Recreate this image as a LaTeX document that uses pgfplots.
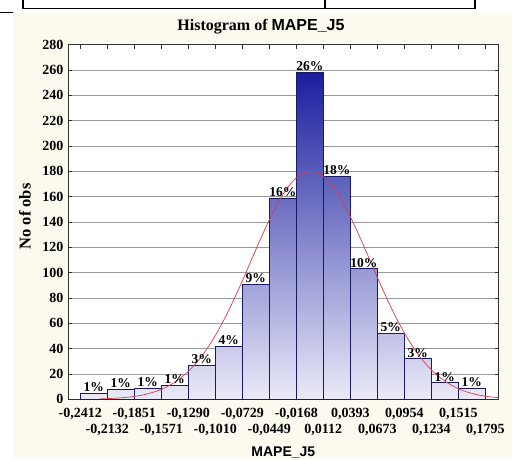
\documentclass[border=0pt]{standalone}
\usepackage{pgfplots}
\pgfplotsset{compat=1.18}
\usepackage{pgfplotstable}
\usepackage{fontspec}
\setmainfont{Liberation Serif}
\newfontfamily\arialf{Liberation Sans}

\definecolor{cream}{RGB}{252,249,239}
\definecolor{bbot}{RGB}{234,234,248}
\definecolor{bmid}{RGB}{122,125,208}
\definecolor{btop}{RGB}{26,30,158}
\definecolor{bnav}{RGB}{25,25,100}
\definecolor{curvered}{RGB}{215,60,80}

% bin left edges, counts, percent labels (last row closes the last bin)
\pgfplotstableread{
e n p
-0.2412 5 1
-0.2132 8 1
-0.1851 9 1
-0.1571 11 1
-0.1290 27 3
-0.1010 42 4
-0.0729 91 9
-0.0449 159 16
-0.0168 258 26
0.0112 176 18
0.0393 103 10
0.0673 52 5
0.0954 32 3
0.1234 13 1
0.1515 9 1
0.1795 9 0
}\bins

% fitted normal curve
\pgfplotstableread{
x y
-0.2217 0.3
-0.21 0.65
-0.20 1.1
-0.19 1.8
-0.18 2.9
-0.17 4.6
-0.16 7.0
-0.15 10.4
-0.14 15.1
-0.13 21.4
-0.12 29.4
-0.11 39.5
-0.10 51.6
-0.09 65.8
-0.08 81.6
-0.07 98.6
-0.06 116.2
-0.05 133.4
-0.04 149.2
-0.03 162.5
-0.02 172.6
-0.01 178.5
0.00 179.9
0.01 176.7
0.02 169.0
0.03 157.6
0.04 143.1
0.05 126.6
0.06 109.2
0.07 91.7
0.08 75.1
0.09 59.9
0.10 46.5
0.11 35.2
0.12 26.0
0.13 18.7
0.14 13.1
0.15 8.9
0.16 5.9
0.17 3.8
0.18 2.4
0.19 1.5
0.1934 1.3
}\curve

\begin{document}
\begin{tikzpicture}[x=1pt,y=1pt]
\useasboundingbox (0,0) rectangle (512,459);
\fill[white] (0,0) rectangle (512,459);
\fill[cream] (13,0) rectangle (512,445.5);
% bit of the table above the chart
\draw[line width=1.6pt] (22.7,459) -- (22.7,450.3) -- (475,450.3) -- (475,459);
\draw[line width=1.6pt] (325,459) -- (325,450.3);
\draw[line width=1.6pt] (0,446.5) -- (13,446.5);

\begin{axis}[
    at={(68pt,59.7pt)}, anchor=south west,
    width=430.7pt, height=354.6pt, scale only axis,
    axis background/.style={fill=white},
    xmin=-0.2540, xmax=0.1934, ymin=0, ymax=280,
    ytick={0,20,...,280},
    xtick={-0.2412,-0.1851,-0.1290,-0.0729,-0.0168,0.0393,0.0954,0.1515},
    extra x ticks={-0.2132,-0.1571,-0.1010,-0.0449,0.0112,0.0673,0.1234,0.1795},
    extra x tick style={grid=none, tick label style={yshift=-16pt}},
    xticklabel={\pgfmathprintnumber[fixed,fixed zerofill,precision=4,use comma]{\tick}},
    /pgf/number format/assume math mode=true,
    tick label style={font=\bfseries\fontsize{14}{16}\selectfont},
    xticklabel style={yshift=-5pt},
    yticklabel style={xshift=-1pt},
    ymajorgrids,
    grid style={black!40, line width=0.9pt},
    axis line style={black!80, line width=0.8pt},
    major tick length=4pt,
    tick style={black!80, line width=0.6pt},
    title={Histogram of {\arialf MAPE\_J5}},
    title style={at={(0.448,1.022)}, anchor=base, font=\bfseries\fontsize{16}{18}\selectfont},
    xlabel={{\arialf MAPE\_J5}},
    xlabel style={at={(0.5,-0.1627)}, anchor=base, font=\bfseries\fontsize{14}{16}\selectfont},
    ylabel={No of obs},
    ylabel style={at={(-0.1,0.5155)}, anchor=center, font=\bfseries\fontsize{16.5}{18}\selectfont},
]
\addplot[const plot, draw=none, top color=btop, middle color=bmid, bottom color=bbot]
    table[x=e, y=n] {\bins} \closedcycle;
\addplot[ybar interval, draw=bnav, fill=none, line width=0.8pt]
    table[x=e, y=n] {\bins};
\addplot[draw=none, point meta=\thisrow{p},
    skip coords between index={15}{16},
    nodes near coords={\pgfmathprintnumber{\pgfplotspointmeta}\%},
    every node near coord/.append style={anchor=south, text=black, inner sep=1.2pt,
        font=\bfseries\fontsize{13.5}{15}\selectfont}]
    table[x expr=\thisrow{e}+0.014, y=n] {\bins};
\addplot[curvered, line width=0.7pt, smooth] table[x=x, y=y] {\curve};
\end{axis}
\end{tikzpicture}
\end{document}
